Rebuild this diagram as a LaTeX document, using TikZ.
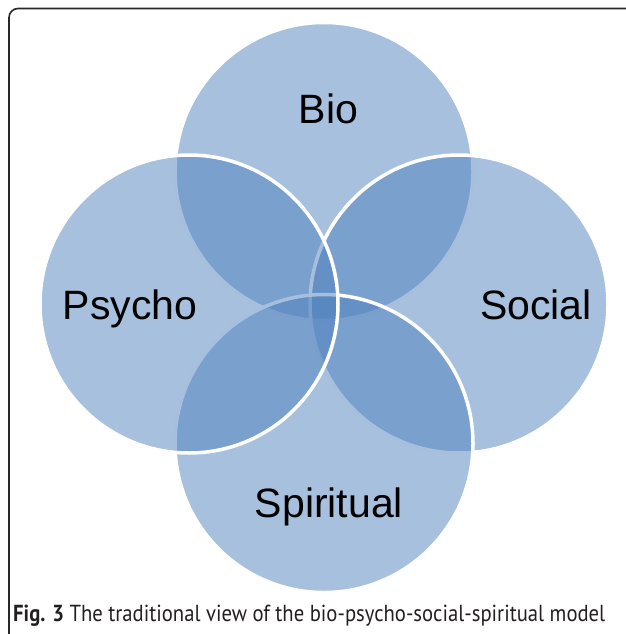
\documentclass[tikz,border=0pt]{standalone}
\usepackage{fontspec}
\setmainfont{Liberation Sans}
\newfontfamily\capfont{PT Sans}
\definecolor{vennblue}{RGB}{79,129,189}
\definecolor{framegray}{RGB}{40,40,40}
\definecolor{captext}{RGB}{35,31,32}
\tikzset{
  venn/.style={fill=vennblue, fill opacity=0.5, draw=white, draw opacity=1, line width=3.5pt},
  vlabel/.style={anchor=base, font=\fontsize{41}{45}\selectfont, text=black, inner sep=0pt},
}
\begin{document}
\begin{tikzpicture}[x=1pt,y=-1pt]
\useasboundingbox (0,0) rectangle (625,634);
\draw[framegray, line width=1.6pt, rounded corners=9pt] (9,8.5) rectangle (660,670);
\path[venn] (324,171.5) circle (149);
\path[venn] (459,304) circle (149);
\path[venn] (324,443.5) circle (149);
\path[venn] (189,304) circle (149);
\node[vlabel] (bio) at (328.5,123) {Bio};
\node[vlabel] (psycho) at (130,319) {Psycho};
\node[vlabel] (social) at (536,319) {Social};
\node[vlabel] (spiritual) at (329,517) {Spiritual};
\node[anchor=base west, inner sep=0pt, text=captext] (cap) at (13,621)
  {\resizebox{592pt}{16.5pt}{\capfont\fontsize{20}{24}\selectfont\textbf{Fig. 3} The traditional view of the bio-psycho-social-spiritual model}};
\end{tikzpicture}
\end{document}
